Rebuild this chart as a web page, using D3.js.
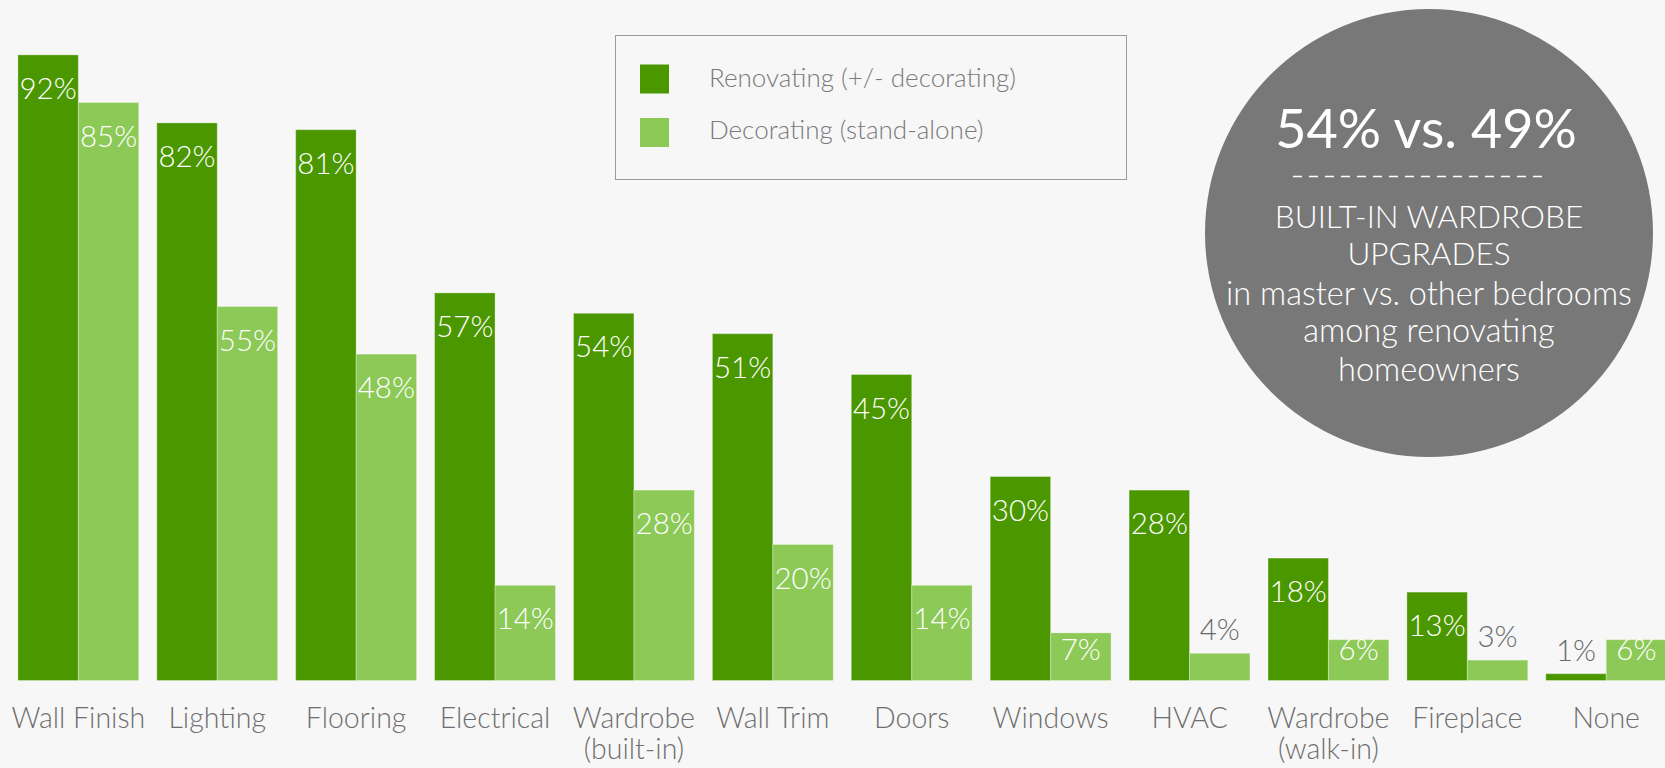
<!DOCTYPE html>
<html>
<head>
<meta charset="utf-8">
<script src="https://cdn.jsdelivr.net/npm/d3@7"></script>
<style>
  html, body { margin: 0; padding: 0; background: #f7f7f7; overflow: hidden; }
  svg { display: block; font-family: Lato, "Open Sans", "DejaVu Sans", sans-serif; }
</style>
</head>
<body>
<svg id="chart" width="1665" height="768"></svg>
<script>
// Bedroom project scope: share of homeowners by project type
const categories = ["Wall Finish", "Lighting", "Flooring", "Electrical", "Wardrobe\n(built-in)",
  "Wall Trim", "Doors", "Windows", "HVAC", "Wardrobe\n(walk-in)", "Fireplace", "None"];
const seriesKeys = ["renovating", "decorating"];
const seriesNames = ["Renovating (+/- decorating)", "Decorating (stand-alone)"];
const renovating = [92, 82, 81, 57, 54, 51, 45, 30, 28, 18, 13, 1];
const decorating = [85, 55, 48, 14, 28, 20, 14, 7, 4, 6, 3, 6];
const calloutHeadline = "54% vs. 49%";
const calloutLines = ["BUILT-IN WARDROBE", "UPGRADES", "in master vs. other bedrooms",
  "among renovating", "homeowners"];

const colors = { renovating: "#4b9700", decorating: "#8cc957" };
const W = 1665, H = 768;
const svg = d3.select("#chart");

svg.append("rect").attr("width", W).attr("height", H).attr("fill", "#f7f7f7");

// Scales
const baseY = 680.5;
const x0 = d3.scaleBand()
  .domain(categories)
  .range([17.9, 17.9 + 138.9 * (categories.length - 0.13)])
  .paddingInner(0.13)
  .paddingOuter(0);
const x1 = d3.scaleBand().domain(seriesKeys).range([0, x0.bandwidth()]);
const y = d3.scaleLinear().domain([0, 100]).range([baseY, baseY - 680]);

const rows = categories.map((c, i) => ({
  cat: c,
  values: [
    { key: "renovating", value: renovating[i] },
    { key: "decorating", value: decorating[i] }
  ]
}));

// Bars
const groups = svg.append("g").selectAll("g")
  .data(rows).join("g")
  .attr("transform", d => `translate(${x0(d.cat)},0)`);

groups.selectAll("rect")
  .data(d => d.values).join("rect")
  .attr("x", d => x1(d.key))
  .attr("y", d => y(d.value))
  .attr("width", x1.bandwidth())
  .attr("height", d => baseY - y(d.value))
  .attr("fill", d => colors[d.key])
  .attr("stroke", "rgba(255,255,255,0.3)")
  .attr("stroke-width", 1);

// Value labels: inside the bar top, or above the bar when it is too short
groups.selectAll("text.val")
  .data(d => d.values).join("text")
  .attr("class", "val")
  .attr("x", d => x1(d.key) + x1.bandwidth() / 2)
  .attr("y", d => d.value < 5 ? y(d.value) - 13 : Math.min(y(d.value) + 44, baseY - 21))
  .attr("text-anchor", "middle")
  .attr("font-size", 29.5)
  .attr("font-weight", 300)
  .attr("fill", d => d.value < 5 ? "#6a6a6a" : "#ffffff")
  .text(d => d.value + "%");

// Category axis
const axis = svg.append("g")
  .attr("transform", `translate(0,${baseY})`)
  .call(d3.axisBottom(x0).tickSize(0).tickPadding(0));
axis.select(".domain").remove();
axis.selectAll(".tick text").each(function(d) {
  const t = d3.select(this);
  t.text(null)
    .attr("y", 47.5)
    .attr("dy", null)
    .attr("font-family", 'Lato, "Open Sans", sans-serif')
    .attr("font-size", 28.5)
    .attr("font-weight", 300)
    .attr("fill", "#6e6e6e");
  d.split("\n").forEach((line, k) => {
    t.append("tspan").attr("x", 0).attr("dy", k === 0 ? 0 : 31).text(line);
  });
});

// Legend
const legend = svg.append("g");
legend.append("rect")
  .attr("x", 615.5).attr("y", 35.5).attr("width", 511).attr("height", 144)
  .attr("fill", "none").attr("stroke", "#9a9a9a").attr("stroke-width", 1);
seriesKeys.forEach((k, i) => {
  legend.append("rect")
    .attr("x", 640).attr("y", 64.5 + i * 53.5)
    .attr("width", 29).attr("height", 29)
    .attr("fill", colors[k]);
  legend.append("text")
    .attr("x", 709).attr("y", 87 + i * 52)
    .attr("font-size", 26)
    .attr("font-weight", 300)
    .attr("fill", "#7a7a7a")
    .text(seriesNames[i]);
});

// Callout circle
const cx = 1429, cy = 233, r = 224;
const callout = svg.append("g");
callout.append("circle").attr("cx", cx).attr("cy", cy).attr("r", r).attr("fill", "#787878");
callout.append("text")
  .attr("x", cx - 3).attr("y", 148)
  .attr("text-anchor", "middle")
  .attr("font-size", 54)
  .attr("fill", "#ffffff")
  .text(calloutHeadline);
callout.append("line")
  .attr("x1", 1293).attr("x2", 1548).attr("y1", 176.5).attr("y2", 176.5)
  .attr("stroke", "#ffffff").attr("stroke-width", 1.6)
  .attr("stroke-dasharray", "9 7");
const lineBaselines = [228, 265, 305, 342, 381];
calloutLines.forEach((s, i) => {
  callout.append("text")
    .attr("x", cx).attr("y", lineBaselines[i])
    .attr("text-anchor", "middle")
    .attr("font-size", i < 2 ? 31.5 : 32.5)
    .attr("font-weight", 300)
    .attr("fill", "#ffffff")
    .text(s);
});
</script>
</body>
</html>
